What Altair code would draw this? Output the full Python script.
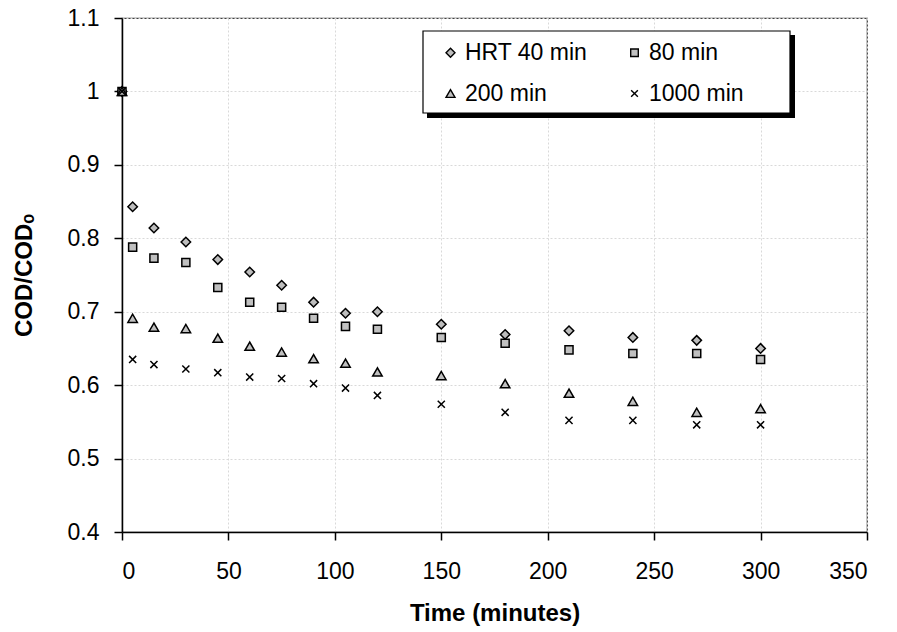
import altair as alt
import pandas as pd

times = [0, 5, 15, 30, 45, 60, 75, 90, 105, 120, 150, 180, 210, 240, 270, 300]
hrt40 = [1.0, 0.843, 0.814, 0.795, 0.771, 0.754, 0.736, 0.713, 0.698, 0.700, 0.683, 0.669, 0.674, 0.665, 0.661, 0.650]
hrt80 = [1.0, 0.788, 0.773, 0.767, 0.733, 0.713, 0.706, 0.691, 0.680, 0.676, 0.665, 0.657, 0.648, 0.643, 0.643, 0.635]
hrt200 = [1.0, 0.691, 0.679, 0.677, 0.664, 0.653, 0.645, 0.636, 0.630, 0.618, 0.613, 0.602, 0.589, 0.578, 0.563, 0.568]
hrt1000 = [1.0, 0.635, 0.628, 0.622, 0.617, 0.611, 0.609, 0.602, 0.596, 0.586, 0.574, 0.563, 0.552, 0.552, 0.546, 0.546]
series_names = ["HRT 40 min", "80 min", "200 min", "1000 min"]
x_ticks = [0, 50, 100, 150, 200, 250, 300, 350]
y_ticks = [0.4, 0.5, 0.6, 0.7, 0.8, 0.9, 1.0, 1.1]

rows = []
for name, vals in zip(series_names, [hrt40, hrt80, hrt200, hrt1000]):
    for t, v in zip(times, vals):
        rows.append({"time": t, "value": v, "series": name})
df = pd.DataFrame(rows)

shapes = [
    "diamond",
    "M-0.85,-0.85H0.85V0.85H-0.85Z",
    "triangle-up",
    "M-0.75,-0.75L0.75,0.75M-0.75,0.75L0.75,-0.75",
]
fills = ["#bdbdbd", "#c0c0c0", "#c0c0c0", "black"]
strokes = ["black", "black", "black", "black"]

FONT = "Liberation Sans"

legend = alt.Legend(
    title=None, orient="none", legendX=317, legendY=23, columns=2,
    direction="horizontal",
    labelFont=FONT, labelFontSize=23, labelColor="black",
    symbolSize=80, symbolStrokeWidth=1.4,
    labelOffset=3, columnPadding=35, rowPadding=17, padding=0,
)

points = alt.Chart(df).mark_point(
    filled=True, size=90, strokeWidth=1.5, opacity=1
).encode(
    x=alt.X("time:Q",
            scale=alt.Scale(domain=[0, 350], nice=False, zero=False),
            axis=alt.Axis(values=x_ticks, title="Time (minutes)",
                          labelPadding=20, titlePadding=18)),
    y=alt.Y("value:Q",
            scale=alt.Scale(domain=[0.4, 1.1], nice=False, zero=False),
            axis=alt.Axis(values=y_ticks, format="~g", title="COD/CODₒ",
                          labelPadding=15, titlePadding=31)),
    shape=alt.Shape("series:N", scale=alt.Scale(domain=series_names, range=shapes), legend=legend),
    fill=alt.Fill("series:N", scale=alt.Scale(domain=series_names, range=fills), legend=legend),
    stroke=alt.Stroke("series:N", scale=alt.Scale(domain=series_names, range=strokes), legend=legend),
)

one = pd.DataFrame({"k": [0]})
shadow = alt.Chart(one).mark_rect(color="black").encode(
    x=alt.value(305), x2=alt.value(673), y=alt.value(17), y2=alt.value(100)
)
box = alt.Chart(one).mark_rect(fill="white", stroke="black", strokeWidth=1.2).encode(
    x=alt.value(301), x2=alt.value(668), y=alt.value(13), y2=alt.value(95)
)

chart = alt.layer(shadow, box, points).properties(
    width=745, height=514,
    autosize=alt.AutoSizeParams(type="none"),
    padding={"left": 122, "top": 18, "right": 30, "bottom": 100},
    background="white",
).configure_view(
    stroke="#404040", strokeWidth=1.2
).configure_axis(
    labelFont=FONT, labelFontSize=23, labelColor="black",
    titleFont=FONT, titleFontSize=24, titleFontWeight="bold", titleColor="black",
    domainColor="black", domainWidth=1.5,
    tickColor="black", tickWidth=1.5, tickSize=8,
    gridColor="#d9d9d9", gridDash=[2, 2], gridWidth=1,
)

chart.save("out.html", embed_options={"renderer": "svg", "actions": False})
